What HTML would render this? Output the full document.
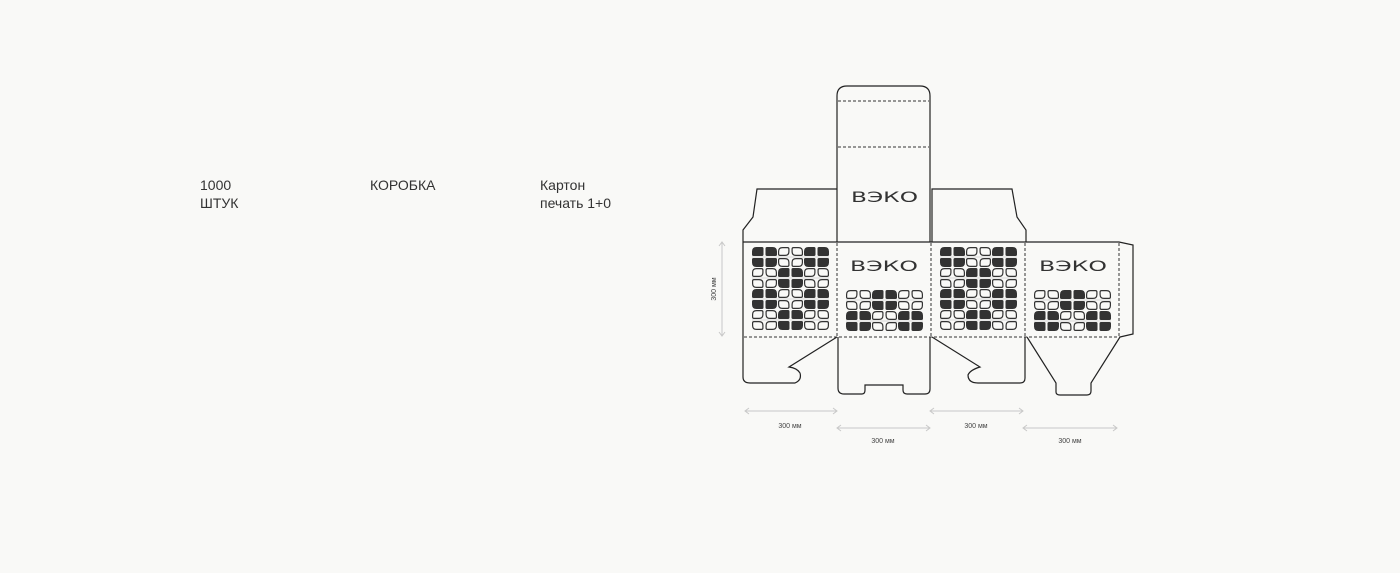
<!DOCTYPE html>
<html><head><meta charset="utf-8"><style>
html,body{margin:0;padding:0;background:#f9f9f7;}
body{width:1400px;height:573px;position:relative;overflow:hidden;font-family:"Liberation Sans","Noto Sans CJK SC",sans-serif;color:#333;}
.t{position:absolute;font-size:14px;line-height:18px;}
svg{position:absolute;left:0;top:0;}
</style></head><body>
<div class="t" style="left:200px;top:176px">1000<br>ШТУК</div>
<div class="t" style="left:370px;top:176px">КОРОБКА</div>
<div class="t" style="left:540px;top:176px">Картон<br>печать 1+0</div>
<svg width="1400" height="573" viewBox="0 0 1400 573">
<defs>
<path id="p" d="M4.5,0 H10 Q11.5,0 11.5,1.5 V7.5 Q11.5,9 10,9 H1.5 Q0,9 0,7.5 V4.5 Q0,0 4.5,0Z"/>
<path id="q" d="M4.5,0.6 H9.5 Q10.9,0.6 10.9,2 V4.5 Q10.9,8.4 7,8.4 H2 Q0.6,8.4 0.6,7 V4.5 Q0.6,0.6 4.5,0.6Z"/>
<g id="bd" fill="#333">
<use href="#p"/><use href="#p" transform="translate(25,0) scale(-1,1)"/>
<use href="#p" transform="translate(0,20) scale(1,-1)"/><use href="#p" transform="translate(25,20) scale(-1,-1)"/>
</g>
<g id="bl" fill="none" stroke="#333" stroke-width="1.2">
<use href="#q"/><use href="#q" transform="translate(25,0) scale(-1,1)"/>
<use href="#q" transform="translate(0,20) scale(1,-1)"/><use href="#q" transform="translate(25,20) scale(-1,-1)"/>
</g>
<g id="rA"><line x1="0" y1="10" x2="77" y2="10" stroke="#ccc" stroke-width="0.8"/><use href="#bd" x="0"/><use href="#bl" x="26"/><use href="#bd" x="52"/></g>
<g id="rB"><line x1="0" y1="10" x2="77" y2="10" stroke="#ccc" stroke-width="0.8"/><use href="#bl" x="0"/><use href="#bd" x="26"/><use href="#bl" x="52"/></g>
<g id="big"><use href="#rA"/><use href="#rB" y="21"/><use href="#rA" y="42"/><use href="#rB" y="63"/></g>
<g id="small"><use href="#rB"/><use href="#rA" y="21"/></g>
</defs>
<g fill="none" stroke="#222" stroke-width="1.2">
<path d="M837,242 V96 Q837,86 847,86 H920 Q930,86 930,96 V242"/>
<path d="M743,242 V230 L753,217 L757,189 H837"/>
<path d="M932,242 V189 H1012 L1017,217 L1026,230 V242"/>
<path d="M743,242 H1119 L1133,245 V334 L1120,337"/>
<path d="M743,242 V377 Q743,383 750,383 H795 Q802,380 800,373 Q797,368 789,367 L837,337"/>
<path d="M838,337 V388 Q838,394 844,394 H862 Q865,394 865,390 V385 H903 V390 Q903,394 907,394 H925 Q930,394 930,389 V337"/>
<path d="M932,337 L980,367 Q970,370 968,375 Q968,383 978,383 H1020 Q1025,383 1025,378 V337"/>
<path d="M1027,337 L1056,383 V392 Q1056,395 1060,395 H1087 Q1091,395 1091,391 V383 L1120,337"/>
</g>
<g fill="none" stroke="#333" stroke-width="1" stroke-dasharray="3,2">
<line x1="838" y1="101" x2="929" y2="101"/><line x1="838" y1="147" x2="929" y2="147"/>
<line x1="744" y1="337" x2="1120" y2="337"/>
<line x1="837" y1="243" x2="837" y2="336"/><line x1="931" y1="243" x2="931" y2="336"/>
<line x1="1025" y1="243" x2="1025" y2="336"/><line x1="1119" y1="243" x2="1119" y2="336"/>
</g>
<use href="#big" x="752" y="247"/><use href="#big" x="940" y="247"/>
<use href="#small" x="846" y="290"/><use href="#small" x="1034" y="290"/>
<g font-family="DejaVu Sans, sans-serif" fill="#333" font-size="14" font-weight="normal">
<text x="851" y="202" textLength="67" lengthAdjust="spacingAndGlyphs">ВЭКО</text>
<text x="850" y="271" textLength="68" lengthAdjust="spacingAndGlyphs">ВЭКО</text>
<text x="1039" y="271" textLength="68" lengthAdjust="spacingAndGlyphs">ВЭКО</text>
</g>
<g stroke="#c8c8c8" stroke-width="1" fill="none">
<path d="M745,411 H837 M749,408 L745,411 L749,414 M833,408 L837,411 L833,414"/>
<path d="M837,428 H930 M841,425 L837,428 L841,431 M926,425 L930,428 L926,431"/>
<path d="M930,411 H1023 M934,408 L930,411 L934,414 M1019,408 L1023,411 L1019,414"/>
<path d="M1023,428 H1117 M1027,425 L1023,428 L1027,431 M1113,425 L1117,428 L1113,431"/>
<path d="M722,242 V336 M719,246 L722,242 L725,246 M719,332 L722,336 L725,332"/>
</g>
<g font-family="Liberation Sans, sans-serif" fill="#444" font-size="7" text-anchor="middle">
<text x="790" y="428">300 мм</text><text x="883" y="443">300 мм</text>
<text x="976" y="428">300 мм</text><text x="1070" y="443">300 мм</text>
<text transform="translate(716,289) rotate(-90)">300 мм</text>
</g>
</svg>
</body></html>
